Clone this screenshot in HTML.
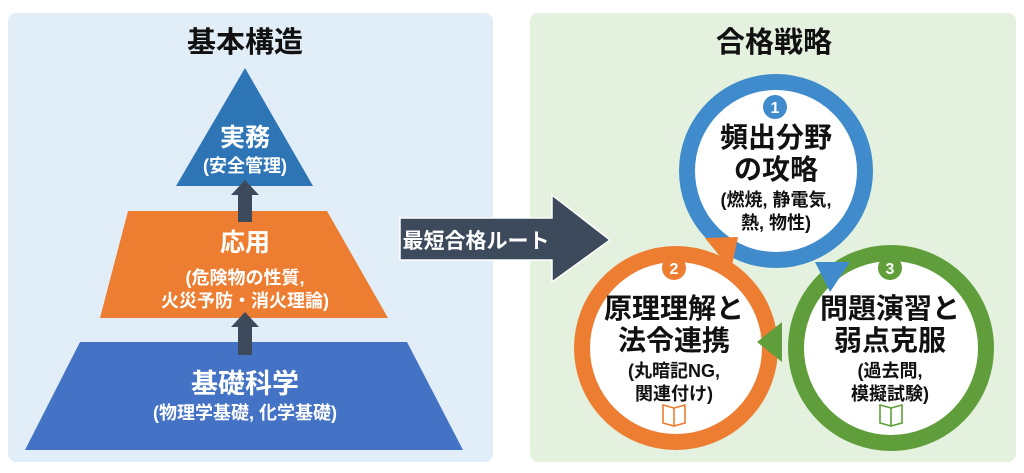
<!DOCTYPE html>
<html><head><meta charset="utf-8"><style>
html,body{margin:0;padding:0;background:#fff;width:1024px;height:473px;overflow:hidden}
svg text{font-family:"Liberation Sans","Noto Sans CJK JP",sans-serif;font-weight:bold;text-anchor:middle}
</style></head><body>
<svg width="1024" height="473" viewBox="0 0 1024 473" xmlns="http://www.w3.org/2000/svg">
<rect x="8" y="13" width="485" height="449" rx="8" fill="#e2eef7"/>
<rect x="530" y="13" width="486" height="449" rx="8" fill="#e5f1df"/>
<text x="245" y="52" font-size="29" fill="#111">基本構造</text>
<text x="774" y="52" font-size="29" fill="#111">合格戦略</text>
<polygon points="245,68 313,186 176,186" fill="#2e75b6"/>
<polygon points="128,211 327,211 388,318 100,318" fill="#ed7d31"/>
<polygon points="80,342 407,342 463,450 25,450" fill="#4472c4"/>
<g fill="#3d4a5c">
<polygon points="245,180 259,195 252,195 252,222 238,222 238,195 231,195"/>
<polygon points="245,312 259,327 252,327 252,355 238,355 238,327 231,327"/>
</g>
<g fill="#fff">
<text x="245" y="146" font-size="25">実務</text>
<text x="245" y="172" font-size="18">(安全管理)</text>
<text x="245" y="251" font-size="25">応用</text>
<text x="245" y="284" font-size="18">(危険物の性質,</text>
<text x="245" y="307" font-size="18">火災予防・消火理論)</text>
<text x="245" y="393" font-size="27">基礎科学</text>
<text x="245" y="419" font-size="18">(物理学基礎, 化学基礎)</text>
</g>
<polygon points="400,218 552,218 552,195 610,240 552,282 552,260 400,260" fill="#3d4a5c" stroke="#fff" stroke-width="1.5"/>
<text x="476" y="248" font-size="21" fill="#fff">最短合格ルート</text>
<circle cx="676" cy="348" r="94" fill="#fff" stroke="#ed7d31" stroke-width="16"/>
<circle cx="891" cy="348" r="95" fill="#fff" stroke="#5f9e3a" stroke-width="16"/>
<circle cx="776" cy="171" r="89" fill="#fff" stroke="#3f8bcb" stroke-width="16"/>
<polygon points="705,238 738,237 731,270" fill="#ed7d31"/>
<polygon points="815,262 850,262 830,292" fill="#3f8bcb"/>
<polygon points="757,342 782,322 782,362" fill="#5f9e3a"/>
<circle cx="775" cy="107" r="12" fill="#3f8bcb"/><text x="775" y="113" font-size="16" fill="#fff">1</text>
<circle cx="674" cy="268" r="12" fill="#ed7d31"/><text x="674" y="274" font-size="16" fill="#fff">2</text>
<circle cx="890" cy="268" r="12" fill="#5f9e3a"/><text x="890" y="274" font-size="16" fill="#fff">3</text>
<g fill="#111">
<text x="776" y="147" font-size="28">頻出分野</text>
<text x="776" y="179" font-size="28">の攻略</text>
<text x="776" y="206" font-size="18">(燃焼, 静電気,</text>
<text x="776" y="229" font-size="18">熱, 物性)</text>
<text x="674" y="318" font-size="28">原理理解と</text>
<text x="674" y="350" font-size="28">法令連携</text>
<text x="674" y="377" font-size="18">(丸暗記NG,</text>
<text x="674" y="400" font-size="18">関連付け)</text>
<text x="890" y="318" font-size="28">問題演習と</text>
<text x="890" y="350" font-size="28">弱点克服</text>
<text x="890" y="377" font-size="18">(過去問,</text>
<text x="890" y="400" font-size="18">模擬試験)</text>
</g>
<g fill="none" stroke-width="1.6">
<path d="M663,405 L674,408 L685,405 L685,423 L674,426 L663,423 Z M674,408 L674,426" stroke="#ed7d31"/>
<path d="M880,405 L891,408 L902,405 L902,423 L891,426 L880,423 Z M891,408 L891,426" stroke="#5f9e3a"/>
</g>
</svg>
</body></html>
